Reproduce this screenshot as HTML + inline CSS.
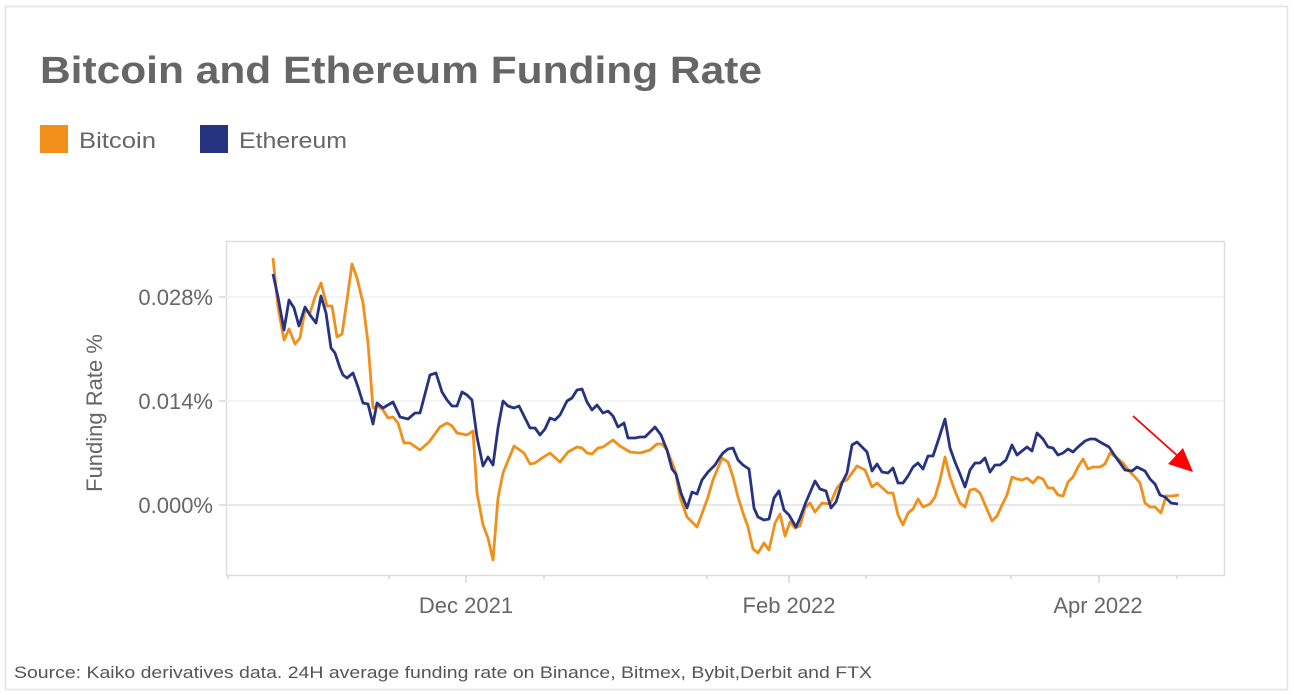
<!DOCTYPE html>
<html><head><meta charset="utf-8"><style>
html,body{margin:0;padding:0;background:#fff;}
svg{display:block;font-family:"Liberation Sans",sans-serif;}
</style></head><body>
<svg width="1294" height="695" viewBox="0 0 1294 695" xmlns="http://www.w3.org/2000/svg">
<rect x="5.5" y="6.5" width="1282" height="683" fill="#fff" stroke="#e3e3e3" stroke-width="1.5"/>
<text x="40" y="83" font-size="38" font-weight="bold" fill="#666" textLength="722" lengthAdjust="spacingAndGlyphs">Bitcoin and Ethereum Funding Rate</text>
<rect x="40" y="125" width="28" height="28" fill="#f18f1b"/>
<text x="79" y="148" font-size="22" fill="#666" textLength="77" lengthAdjust="spacingAndGlyphs">Bitcoin</text>
<rect x="200" y="125" width="28" height="28" fill="#263380"/>
<text x="239" y="148" font-size="22" fill="#666" textLength="108" lengthAdjust="spacingAndGlyphs">Ethereum</text>
<rect x="226.5" y="241.5" width="998" height="334" fill="none" stroke="#ddd" stroke-width="1.5"/>
<line x1="226" y1="297" x2="1224" y2="297" stroke="#f0f0f0" stroke-width="1.5"/>
<line x1="226" y1="401" x2="1224" y2="401" stroke="#f0f0f0" stroke-width="1.5"/>
<line x1="226" y1="505" x2="1224" y2="505" stroke="#e0e0e0" stroke-width="1.5"/>
<g stroke="#ccc" stroke-width="1.2">
<line x1="219" y1="297" x2="226" y2="297"/><line x1="219" y1="401" x2="226" y2="401"/><line x1="219" y1="505" x2="226" y2="505"/>
<line x1="389" y1="576" x2="389" y2="579"/><line x1="466" y1="576" x2="466" y2="583"/><line x1="544" y1="576" x2="544" y2="579"/>
<line x1="707" y1="576" x2="707" y2="579"/><line x1="789" y1="576" x2="789" y2="583"/><line x1="866" y1="576" x2="866" y2="579"/>
<line x1="1011" y1="576" x2="1011" y2="579"/><line x1="1099" y1="576" x2="1099" y2="583"/><line x1="1177" y1="576" x2="1177" y2="579"/>
<line x1="228" y1="576" x2="228" y2="579"/>
</g>
<g font-size="22" fill="#666" text-anchor="end">
<text x="213" y="305">0.028%</text><text x="213" y="409">0.014%</text><text x="213" y="513">0.000%</text>
</g>
<g font-size="22" fill="#666" text-anchor="middle">
<text x="466" y="613">Dec 2021</text><text x="789" y="613">Feb 2022</text><text x="1098" y="613">Apr 2022</text>
</g>
<text transform="translate(102,413) rotate(-90)" font-size="22" fill="#666" text-anchor="middle">Funding Rate %</text>
<polyline fill="none" stroke="#f18f1b" stroke-width="2.8" stroke-linejoin="round" points="273,258 278,307 284,340 289,329 295,344 300,338 305,310 310,313 315,297 321,283 327,306 332,306 337,337 342,334 347,300 352,264 357,278 363,303 368,343 373,408 378,406 383,410 388,418 393,417 398,423 404,443 410,443 420,450 429,442 440,427 447,423 452,426 457,433 467,435 473,431 477,493 483,525 488,538 493,560 498,498 503,473 514,446 524,453 530,464 535,463 542,458 550,453 560,462 568,452 577,447 582,448 587,453 592,454 598,448 603,447 613,440 620,446 630,452 640,453 650,450 657,444 662,444 667,450 675,470 680,497 687,517 697,527 707,500 713,480 722,458 728,462 733,477 738,497 743,513 748,527 753,549 758,553 764,543 769,550 775,523 780,514 785,536 790,522 795,528 800,526 805,508 810,503 815,512 822,503 830,504 837,488 842,482 847,480 857,466 865,470 872,487 877,483 888,493 893,493 898,515 903,525 908,513 913,509 918,499 923,507 930,504 935,497 940,480 945,457 950,477 955,491 960,503 965,507 970,490 975,489 980,493 986,507 992,521 997,516 1002,505 1007,495 1012,477 1017,479 1022,480 1027,478 1033,483 1038,477 1043,479 1048,488 1053,488 1058,495 1063,496 1068,482 1073,477 1078,467 1083,459 1088,469 1093,467 1100,467 1105,464 1110,453 1117,458 1123,463 1130,472 1135,477 1140,483 1145,503 1150,507 1155,507 1161,513 1166,496 1172,496 1179,495"/>
<polyline fill="none" stroke="#263380" stroke-width="2.8" stroke-linejoin="round" points="273,274 278,297 284,330 289,300 294,308 299,326 305,307 310,315 316,323 321,296 326,313 331,348 335,353 340,368 343,375 347,378 353,373 358,387 363,403 368,404 373,424 377,403 383,408 388,405 393,402 400,417 408,419 415,413 420,413 430,375 436,373 442,392 447,400 452,406 457,406 462,392 467,395 472,400 477,437 483,466 488,457 493,465 498,428 503,401 508,406 514,408 519,406 525,418 530,428 535,428 540,435 545,429 550,418 555,420 560,415 567,401 572,398 577,390 582,389 587,402 592,410 597,405 603,413 608,411 613,416 618,427 624,423 628,438 635,438 640,437 645,437 650,432 655,427 661,435 667,450 672,469 676,474 681,493 687,508 692,492 697,494 702,480 708,472 715,465 720,457 723,453 728,449 733,448 738,460 743,465 749,469 754,508 758,517 764,520 769,519 774,498 779,491 784,510 789,515 796,527 800,518 806,502 815,481 820,489 826,491 831,508 836,502 842,483 847,473 852,445 857,442 867,452 872,471 877,464 882,472 888,473 893,468 898,483 903,483 908,476 913,467 918,463 923,469 928,456 933,456 939,438 945,419 950,448 955,462 960,474 965,487 970,470 975,463 980,463 985,458 990,472 995,465 1000,465 1006,460 1012,445 1017,455 1022,451 1027,447 1032,451 1037,433 1043,439 1048,447 1053,448 1058,455 1063,453 1068,449 1073,452 1078,447 1085,441 1090,439 1095,439 1100,442 1109,447 1115,456 1125,470 1132,471 1137,467 1145,471 1150,479 1155,484 1160,495 1165,497 1171,503 1178,504"/>
<line x1="1133" y1="416" x2="1180" y2="458" stroke="#f00" stroke-width="1.8"/>
<polygon points="1193,472 1168,464 1183,448" fill="#f00"/>
<text x="14" y="678" font-size="16.5" fill="#555" textLength="858" lengthAdjust="spacingAndGlyphs">Source: Kaiko derivatives data. 24H average funding rate on Binance, Bitmex, Bybit,Derbit and FTX</text>
</svg>
</body></html>
